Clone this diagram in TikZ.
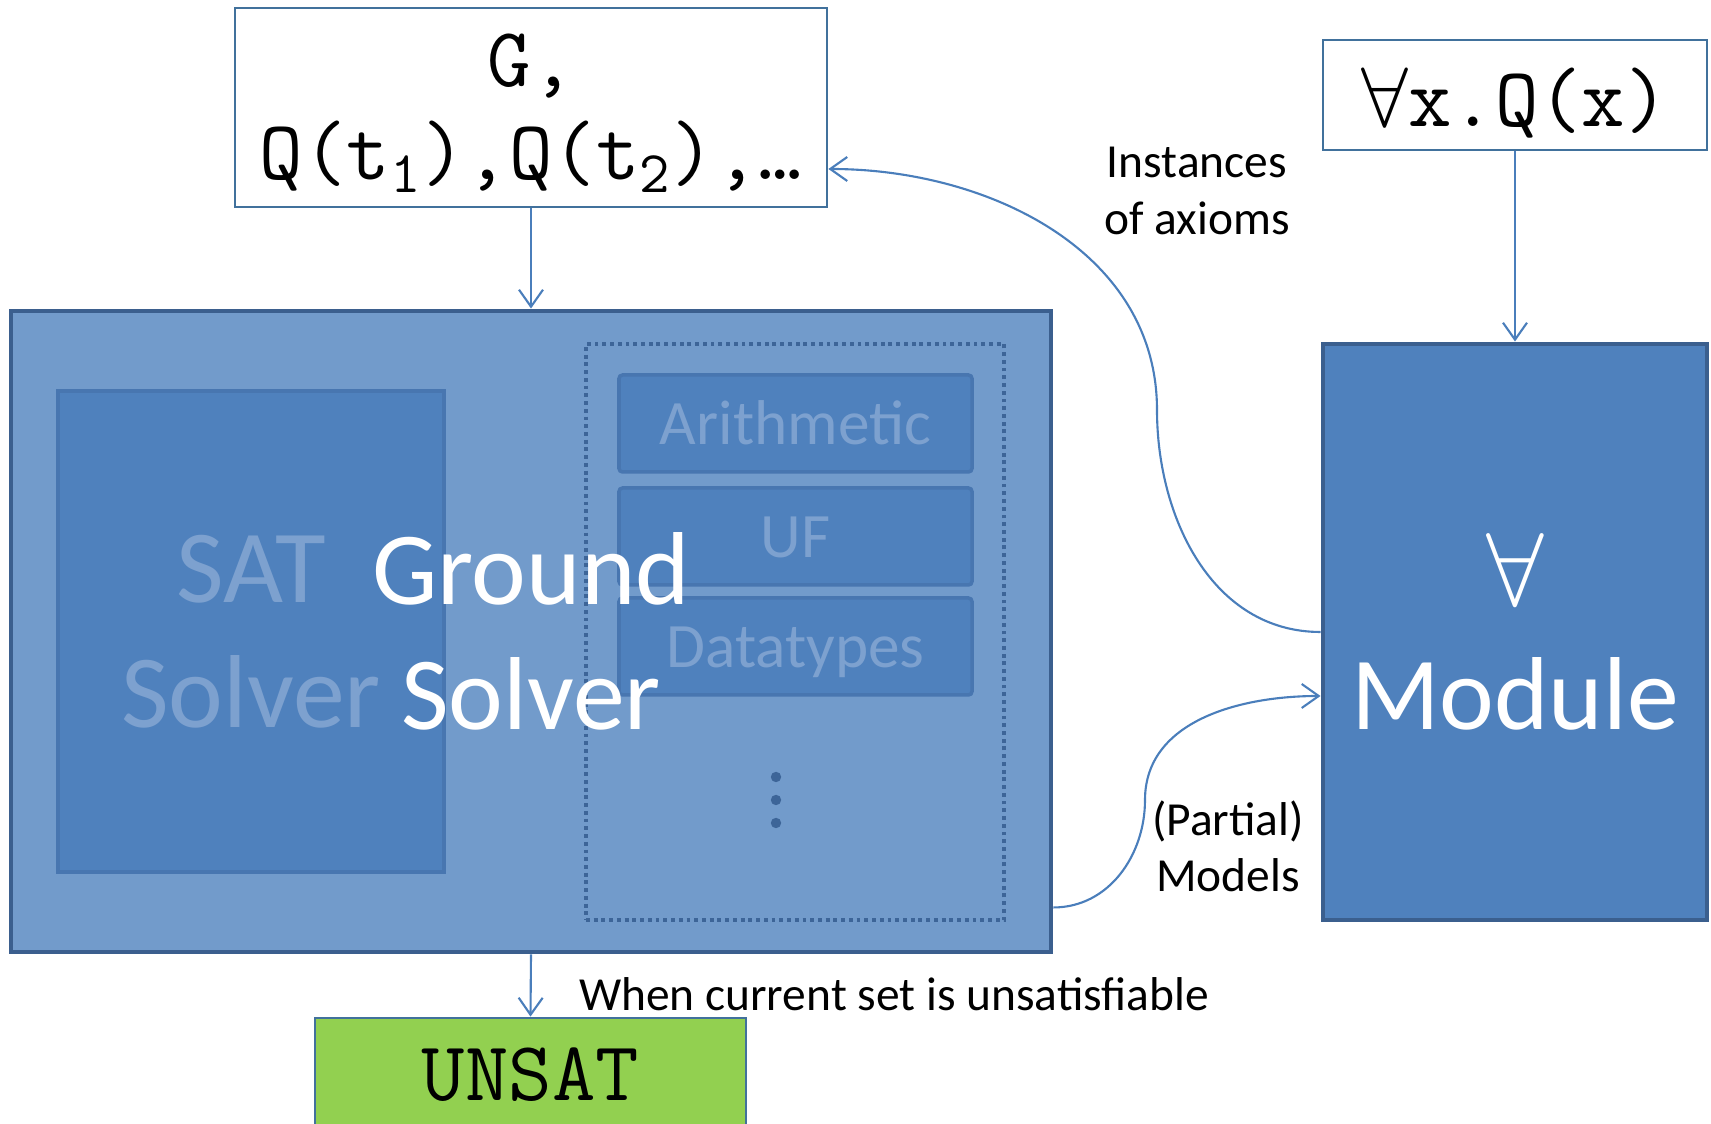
\documentclass[tikz,border=0pt]{standalone}
\usepackage{fix-cm}
\usepackage{fontspec}
\setmainfont{Carlito}
\usetikzlibrary{%
  arrows.meta,%
  positioning% wg. " of "
}
\definecolor{officeblue}{HTML}{4F81BD}
\definecolor{groundblue}{HTML}{729BCB}
\definecolor{solveredge}{HTML}{3B5F8E}
\definecolor{theoryedge}{HTML}{4876B0}
\definecolor{fadedblue}{HTML}{7DA1CF}
\definecolor{dotblue}{HTML}{3D6598}
\definecolor{termedge}{HTML}{41719C}
\definecolor{lineblue}{HTML}{4A7EBB}
\definecolor{unsatgreen}{HTML}{92D050}
\newcommand\droptext[2]{\raisebox{-#1}[\height][\depth]{#2}}

\begin{document}
\begin{tikzpicture}
[font=\fontsize{13.5}{16}\selectfont, line width=0.6pt, >={Straight Barb[length=1.7mm,width=2.4mm]},
term/.style={rectangle, draw=termedge, fill=white, line width=0.8pt, inner sep=0pt, align=center, font=\ttfamily\fontsize{24}{26.5}\selectfont},
solver/.style={rectangle, draw=solveredge, line width=1.4pt, inner sep=0pt},
theory/.style={rectangle, draw=theoryedge, fill=officeblue, rounded corners=1pt, line width=1pt, inner sep=0pt, minimum width=3.53cm, minimum height=0.97cm, text height=12pt, text depth=0pt, text=fadedblue, font=\fontsize{18}{21}\selectfont},
bigtext/.style={align=center, font=\fontsize{29.5}{35.5}\selectfont},
flow/.style={->, draw=lineblue, line width=0.6pt}]

\useasboundingbox (0,0) rectangle (17.11,-11.24);

%% inputs
\node[term, minimum width=5.92cm, minimum height=1.99cm] (goal) at (5.31,-1.075) {\droptext{1.6pt}{G,}\\\droptext{1.6pt}{Q(t\textsubscript{1}),Q(t\textsubscript{2}),…}};
\node[term, minimum width=3.84cm, minimum height=1.10cm] (quant) at (15.15,-0.95) {\droptext{2.2pt}{$\forall$x.Q(x)}};

%% ground solver
\node[solver, fill=groundblue, minimum width=10.40cm, minimum height=6.41cm] (ground) at (5.31,-6.315) {};
\node[rectangle, draw=theoryedge, fill=officeblue, line width=1pt, inner sep=0pt, minimum width=3.86cm, minimum height=4.81cm, text=fadedblue, bigtext] (sat) at (2.51,-6.315) {SAT\\Solver};
\node[rectangle, draw=dotblue, line width=1.1pt, dash pattern=on 1.1pt off 1.1pt, minimum width=4.18cm, minimum height=5.76cm] (theories) at (7.95,-6.32) {};

\foreach \y/\n/\t in {-4.235/arith/Arithmetic, -5.365/uf/UF, -6.465/dt/Datatypes} {
  \node[theory] (\n) at (7.955,\y) {\t};
}
\foreach \y in {-7.77,-8.00,-8.23} {
  \fill[dotblue] (7.76,\y) circle (0.052);
}

\node[text=white, bigtext] (gstext) at (ground.center) {Ground\\Solver};

%% quantifier module
\node[solver, fill=officeblue, minimum width=3.84cm, minimum height=5.76cm, text=white, bigtext] (module) at (15.15,-6.32) {$\forall$\\Module};

%% result
\node[rectangle, draw=termedge, fill=unsatgreen, line width=0.8pt, minimum width=4.31cm, minimum height=1.14cm, font=\ttfamily\fontsize{24}{26}\selectfont] (unsat) at (5.305,-10.75) {UNSAT};

%% connectors
\coordinate (goalin) at ([yshift=-0.615cm]goal.east);
\coordinate (bend1) at (11.57,-4.1);
\coordinate (groundout) at ([yshift=0.47cm]ground.south east);
\coordinate (bend2) at (11.45,-8.0);
\coordinate (modulein) at ([yshift=-0.64cm]module.west);

\draw[flow] (goal.south) -- (ground.north);
\draw[flow] (quant.south) -- (module.north);
\draw[flow] (ground.south) -- (unsat.north);
\draw[flow] (module.west) to[out=180,in=-90] (bend1) to[out=90,in=0] (goalin);
\draw[flow] (groundout) to[out=0,in=-90] (bend2) to[out=90,in=180] (modulein);

\node[align=center, inner sep=0pt] (inst) at (11.97,-1.91) {Instances\\of axioms};
\node[align=center, inner sep=0pt] (partial) at (12.28,-8.46) {(Partial)\\Models};
\node[anchor=west, inner sep=0pt] (when) at (5.78,-9.94) {When current set is unsatisfiable};
\end{tikzpicture}
\end{document}
